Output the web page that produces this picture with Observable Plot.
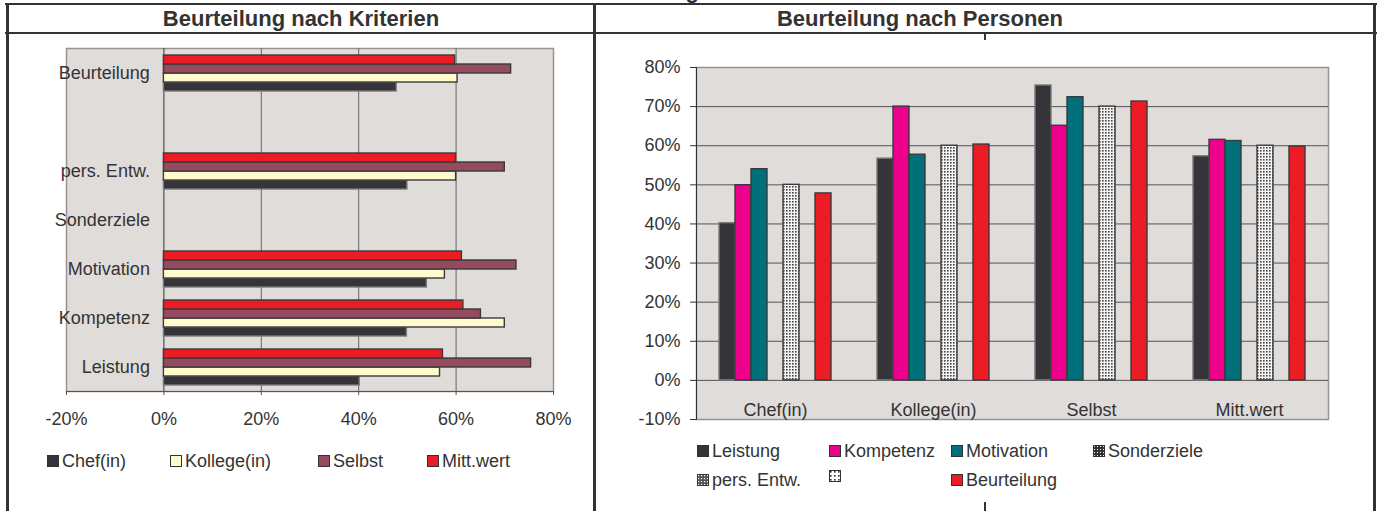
<!DOCTYPE html>
<html><head><meta charset="utf-8">
<script src="https://cdn.jsdelivr.net/npm/d3@7"></script>
<script src="https://cdn.jsdelivr.net/npm/@observablehq/plot@0.6"></script>
<style>
html,body{margin:0;padding:0;background:#fff;}
body{width:1379px;height:511px;position:relative;overflow:hidden;font-family:"Liberation Sans",Arial,sans-serif;color:#333;}
.ln{position:absolute;background:#333;}
.hdr{position:absolute;font-weight:bold;font-size:22px;line-height:28px;top:5px;text-align:center;white-space:nowrap;}
.chart{position:absolute;}
.leg{position:absolute;font-size:18px;line-height:20px;white-space:nowrap;display:flex;align-items:center;}
.leg svg{margin-right:3px;}
</style></head>
<body>
<svg width="0" height="0" style="position:absolute">
  <defs>
    <pattern id="dotsLight" width="3" height="3" patternUnits="userSpaceOnUse">
      <rect width="3" height="3" fill="#f5f5f5"/><rect x="1" y="1" width="1.6" height="1.6" fill="#444"/>
    </pattern>
    <pattern id="dotsDark" width="3" height="3" patternUnits="userSpaceOnUse">
      <rect width="3" height="3" fill="#333"/><rect x="1" y="1" width="1" height="1" fill="#fff"/>
    </pattern>
    <pattern id="dotsMid" width="3" height="3" patternUnits="userSpaceOnUse">
      <rect width="3" height="3" fill="#555"/><rect x="1" y="1" width="1.2" height="1.2" fill="#fff"/>
    </pattern>
    <pattern id="dotsSparse" width="4" height="4" patternUnits="userSpaceOnUse">
      <rect width="4" height="4" fill="#fff"/><rect x="1" y="1" width="1.6" height="1.6" fill="#333"/>
    </pattern>
  </defs>
</svg>

<div class="hdr" style="right:680px;top:-20px;line-height:22px;">Beurteilung</div>
<div class="ln" style="left:5px;top:3px;width:1372px;height:2px;"></div>
<div class="ln" style="left:5px;top:32px;width:1372px;height:2px;"></div>
<div class="ln" style="left:6px;top:3px;width:3px;height:508px;"></div>
<div class="ln" style="left:593px;top:3px;width:3px;height:508px;"></div>
<div class="ln" style="left:1373px;top:3px;width:3px;height:508px;"></div>
<div class="ln" style="left:984px;top:33px;width:2px;height:7px;"></div>
<div class="ln" style="left:984px;top:502px;width:2px;height:9px;"></div>
<div class="hdr" style="left:8px;width:586px;">Beurteilung nach Kriterien</div>
<div class="hdr" style="left:620px;width:600px;">Beurteilung nach Personen</div>

<div id="left" class="chart" style="left:9px;top:34px;"></div>
<div id="right" class="chart" style="left:596px;top:35px;"></div>
<div id="legends"></div>

<script>
// ---- data ----
const persons = ["Chef(in)", "Kollege(in)", "Selbst", "Mitt.wert"];
const criteria = ["Leistung", "Kompetenz", "Motivation", "Sonderziele", "pers. Entw.", "", "Beurteilung"];
const chefValues    = [40.2, 49.9, 54.0, null, 50.0, null, 47.8];
const kollegeValues = [56.7, 70.0, 57.7, null, 60.0, null, 60.3];
const selbstValues  = [75.4, 65.1, 72.4, null, 70.0, null, 71.3];
const mittValues    = [57.3, 61.5, 61.2, null, 60.0, null, 59.8];
const leftTicks  = [-20, 0, 20, 40, 60, 80];
const rightTicks = [-10, 0, 10, 20, 30, 40, 50, 60, 70, 80];

// ---- styles ----
const BG = "#e0dcda", BORDER = "#9c928d", GRID = "#666", AXIS = "#333", OUT = "#3a3a3c";
const personColors = {"Chef(in)": "#353438", "Kollege(in)": "#fffbcd", "Selbst": "#954a5d", "Mitt.wert": "#ec1c24"};
const criterionColors = {"Leistung": "#353438", "Kompetenz": "#ec008c", "Motivation": "#00707a",
  "Sonderziele": "url(#dotsDark)", "pers. Entw.": "url(#dotsLight)", "": "url(#dotsSparse)", "Beurteilung": "#ec1c24"};
const legendSwatch = {"Sonderziele": "url(#dotsDark)", "pers. Entw.": "url(#dotsMid)", "": "url(#dotsSparse)"};

const valuesByPerson = [chefValues, kollegeValues, selbstValues, mittValues];
const rows = [];
persons.forEach((p, i) => criteria.forEach((c, j) => rows.push({person: p, criterion: c, value: valuesByPerson[i][j]})));

const font = {fontFamily: "'Liberation Sans', Arial, sans-serif", fontSize: "18px", color: "#333", background: "transparent", overflow: "visible"};

// ---- left chart: by criteria ----
const left = Plot.plot({
  width: 584, height: 397, marginLeft: 57, marginRight: 40, marginTop: 13, marginBottom: 40,
  style: font,
  fy: {domain: [...criteria].reverse(), padding: 0, axis: null},
  y: {domain: [...persons].reverse(), paddingInner: 0, paddingOuter: 0.65, axis: null},
  x: {domain: [-20, 80], axis: null},
  marks: [
    Plot.frame({fill: BG, stroke: BORDER, strokeWidth: 1.5, facet: "super"}),
    Plot.ruleX([20, 40, 60], {stroke: GRID, strokeWidth: 1}),
    Plot.ruleX([0], {stroke: AXIS, strokeWidth: 1}),
    ...persons.map(p => Plot.barX(rows.filter(r => r.person === p), {
      fy: "criterion", y: "person", x: "value", fill: personColors[p],
      stroke: p === "Chef(in)" ? "#7a7a7a" : OUT, strokeWidth: 1.4
    })),
    Plot.text(criteria, {fy: d => d, x: () => 0, text: d => d, textAnchor: "end", dx: -14, fill: "#333"}),
    Plot.frame({anchor: "bottom", stroke: "#555", facet: "super"}),
    Plot.axisX({ticks: leftTicks, tickFormat: d => d + "%", tickSize: 4, tickPadding: 17, stroke: "#555", fill: "#333", label: null})
  ]
});
document.getElementById("left").append(left);

// ---- right chart: by persons ----
const right = Plot.plot({
  width: 776, height: 394, marginLeft: 100, marginRight: 44, marginTop: 32, marginBottom: 10,
  style: font,
  fx: {domain: persons, padding: 0, axis: null},
  x: {domain: criteria, paddingInner: 0, paddingOuter: 1.19, axis: null},
  y: {domain: [-10, 80], axis: null},
  marks: [
    Plot.frame({fill: BG, stroke: BORDER, strokeWidth: 1.5, facet: "super"}),
    Plot.ruleY(rightTicks.filter(t => t > -10 && t < 80), {stroke: "#555", strokeWidth: 1}),
    ...criteria.map(c => Plot.barY(rows.filter(r => r.criterion === c), {
      fx: "person", x: "criterion", y: "value", fill: criterionColors[c],
      stroke: c === "Leistung" ? "#7a7a7a" : OUT, strokeWidth: 1.4
    })),
    Plot.text(persons, {fx: d => d, text: d => d, frameAnchor: "bottom", lineAnchor: "bottom", dy: -4, fill: "#333"}),
    Plot.frame({anchor: "left", stroke: AXIS, facet: "super"}),
    Plot.axisY({ticks: rightTicks, tickFormat: d => d + "%", tickSize: 6, tickPadding: 10, stroke: AXIS, fill: "#333", label: null})
  ]
});
document.getElementById("right").append(right);

// ---- legends (HTML) ----
function swatch(fill, stroke) {
  return `<svg width="12" height="12"><rect x="0.5" y="0.5" width="11" height="11" fill="${fill}" stroke="${stroke}" stroke-width="1"/></svg>`;
}
const leg = document.getElementById("legends");
const leftLegendX = [47, 170, 318, 427];
persons.forEach((p, i) => {
  const d = document.createElement("div");
  d.className = "leg";
  d.style.left = leftLegendX[i] + "px"; d.style.top = "451px";
  d.innerHTML = swatch(personColors[p], "#333") + `<span>${p}</span>`;
  leg.append(d);
});
const rightLegendPos = [[697, 441], [829, 441], [951, 441], [1093, 441], [697, 470], [829, 470], [951, 470]];
criteria.forEach((c, i) => {
  const d = document.createElement("div");
  d.className = "leg";
  d.style.left = rightLegendPos[i][0] + "px"; d.style.top = rightLegendPos[i][1] + "px";
  d.innerHTML = swatch(legendSwatch[c] || criterionColors[c], "#333") + `<span>${c}</span>`;
  leg.append(d);
});
</script>
</body></html>
